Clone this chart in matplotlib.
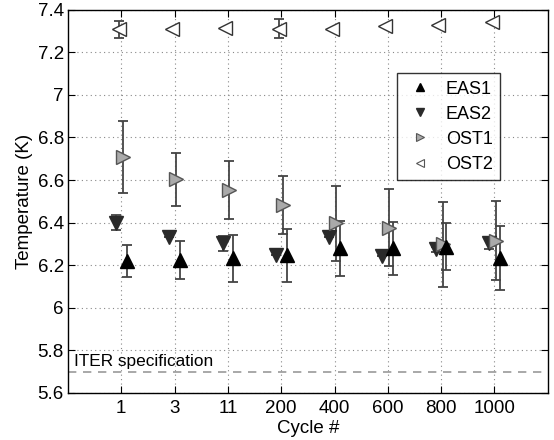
import matplotlib
matplotlib.use("Agg")
import matplotlib.pyplot as plt
import numpy as np

cycles = ["1", "3", "11", "200", "400", "600", "800", "1000"]

eas1 = [6.22, 6.225, 6.232, 6.247, 6.279, 6.279, 6.286, 6.232]
eas1_err = [0.075, 0.09, 0.11, 0.125, 0.13, 0.125, 0.11, 0.15]

eas2 = [6.40, 6.333, 6.302, 6.247, 6.33, 6.243, 6.274, 6.302]
eas2_err = [0.035, 0.0, 0.035, 0.0, 0.0, 0.0, 0.01, 0.028]

ost1 = [6.709, 6.603, 6.553, 6.482, 6.396, 6.376, 6.299, 6.315]
ost1_err = [0.17, 0.125, 0.135, 0.135, 0.175, 0.18, 0.2, 0.185]

ost2 = [7.308, 7.31, 7.315, 7.31, 7.31, 7.323, 7.327, 7.34]
ost2_err = [0.04, 0.0, 0.0, 0.045, 0.0, 0.0, 0.0, 0.0]

iter_spec = 5.7

plt.rcParams['font.family'] = ['Liberation Sans', 'DejaVu Sans']

fig = plt.figure(figsize=(5.54, 4.40), dpi=100)
ax = fig.add_axes([0.1227, 0.107, 0.866, 0.871])

x = np.arange(1, len(cycles) + 1)
ecol = '#444444'
ms = 10

ax.axhline(iter_spec, color='#999999', ls=(0, (5, 4)), lw=1.2, zorder=1)
ax.text(0.11, iter_spec + 0.013, "ITER specification", fontsize=12.4, va='bottom', ha='left')

ax.errorbar(x + 0.03, ost1, yerr=ost1_err, fmt='none', ecolor=ecol, capsize=3.5, elinewidth=1.3, capthick=1.3, zorder=2)
ax.errorbar(x - 0.05, ost2, yerr=ost2_err, fmt='none', ecolor=ecol, capsize=3.5, elinewidth=1.3, capthick=1.3, zorder=2)
ax.errorbar(x - 0.1, eas2, yerr=eas2_err, fmt='none', ecolor=ecol, capsize=3.5, elinewidth=1.3, capthick=1.3, zorder=2)
ax.errorbar(x + 0.1, eas1, yerr=eas1_err, fmt='none', ecolor=ecol, capsize=3.5, elinewidth=1.3, capthick=1.3, zorder=2)

ax.plot(x - 0.1, eas2, 'v', ms=ms, mfc='#2a2a2a', mec='#2a2a2a', ls='none', zorder=3)
ax.plot(x + 0.03, ost1, '>', ms=ms, mfc='#aaaaaa', mec='#555555', mew=1.0, ls='none', zorder=4)
ax.plot(x + 0.1, eas1, '^', ms=ms, mfc='black', mec='black', ls='none', zorder=5)
ax.plot(x - 0.05, ost2, '<', ms=ms, mfc='white', mec='#333333', mew=1.0, ls='none', zorder=4)

# legend proxies
h1, = ax.plot([], [], '^', ms=6, mfc='black', mec='black', ls='none')
h2, = ax.plot([], [], 'v', ms=6, mfc='#2a2a2a', mec='#2a2a2a', ls='none')
h3, = ax.plot([], [], '>', ms=6, mfc='#aaaaaa', mec='#555555', mew=0.8, ls='none')
h4, = ax.plot([], [], '<', ms=6, mfc='white', mec='#555555', mew=0.8, ls='none')
leg = ax.legend([h1, h2, h3, h4], ["EAS1", "EAS2", "OST1", "OST2"], loc='upper right',
                bbox_to_anchor=(0.9, 0.834), fontsize=13, frameon=True, fancybox=False,
                edgecolor='black', handlelength=1.8, handletextpad=0.5, borderpad=0.4,
                labelspacing=0.45, borderaxespad=0)
leg.get_frame().set_linewidth(1.0)

ax.set_xlim(0, 9)
ax.set_ylim(5.6, 7.4)
ax.set_xticks(x)
ax.set_xticklabels(cycles)
yt = np.round(np.arange(5.6, 7.41, 0.2), 1)
ax.set_yticks(yt)
ax.set_yticklabels([("%g" % v) for v in yt])
ax.tick_params(direction='in', labelsize=13.5, length=5, top=True, right=True,
               labeltop=False, labelright=False)
ax.tick_params(axis='x', pad=5)
ax.tick_params(axis='y', pad=3)
ax.grid(True, ls=(0, (1, 3)), color='#888888', lw=0.8)
for s in ax.spines.values():
    s.set_linewidth(1.0)

ax.set_xlabel("Cycle #", fontsize=13.5, labelpad=2)
ax.set_ylabel("Temperature (K)", fontsize=13.5, labelpad=3)

fig.savefig("out.png", dpi=100)
